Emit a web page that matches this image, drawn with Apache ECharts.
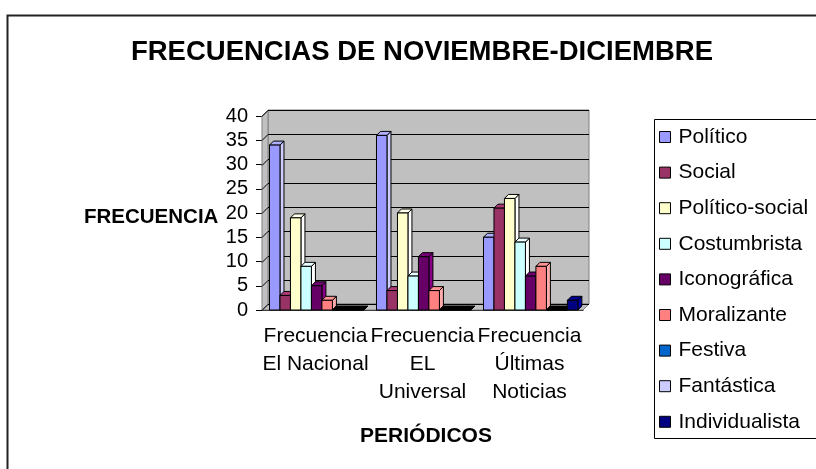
<!DOCTYPE html>
<html>
<head>
<meta charset="utf-8">
<script src="https://cdn.jsdelivr.net/npm/echarts@6/dist/echarts.min.js"></script>
<style>
  html, body { margin: 0; padding: 0; background: #fff; }
  #chart { width: 816px; height: 469px; }
</style>
</head>
<body>
<div id="chart"></div>
<script>
// categories (periodicos) and one array per theme
const categories = ['Frecuencia\nEl Nacional', 'Frecuencia\nEL\nUniversal', 'Frecuencia\nÚltimas\nNoticias']
const seriesNames = ['Político', 'Social', 'Político-social', 'Costumbrista', 'Iconográfica', 'Moralizante', 'Festiva', 'Fantástica', 'Individualista']
const politico = [34, 36, 15]
const social = [3, 4, 21]
const politicoSocial = [19, 20, 23]
const costumbrista = [9, 7, 14]
const iconografica = [5, 11, 7]
const moralizante = [2, 4, 9]
const festiva = [0, 0, 0]
const fantastica = [0, 0, 0]
const individualista = [0, 0, 2]
const yMin = 0
const yMax = 40
const yStep = 5

const seriesValues = [politico, social, politicoSocial, costumbrista, iconografica, moralizante, festiva, fantastica, individualista]
const colors = ['#9999FF', '#993366', '#FFFFCC', '#CCFFFF', '#660066', '#FF8080', '#0066CC', '#CCCCFF', '#000080']

const FONT = '"Liberation Sans", Arial, sans-serif'
const DEPTH = 4      // bar depth in px
const WALL = 6      // wall depth in px

const chart = echarts.init(document.getElementById('chart'))

const renderFrame = (params, api) => {
  const cs = params.coordSys
  const x = cs.x, y = cs.y, w = cs.width, h = cs.height
  const children = [
    // back wall
    { type: 'rect', shape: { x: x + WALL, y: y - WALL, width: w, height: h },
      style: { fill: '#c0c0c0', stroke: '#808080', lineWidth: 1 } },
    // left wall
    { type: 'polygon', shape: { points: [[x, y], [x + WALL, y - WALL], [x + WALL, y + h - WALL], [x, y + h]] },
      style: { fill: '#c0c0c0', stroke: '#808080', lineWidth: 1 } },
    // floor
    { type: 'polygon', shape: { points: [[x, y + h], [x + WALL, y + h - WALL], [x + w + WALL, y + h - WALL], [x + w, y + h]] },
      style: { fill: '#c0c0c0', stroke: '#808080', lineWidth: 1 } }
  ]
  for (let v = yMin; v <= yMax; v += yStep) {
    const py = Math.round(api.coord([0, v])[1]) + 0.5
    children.push({
      type: 'polyline',
      shape: { points: [[x, py], [x + WALL, py - WALL], [x + w + WALL, py - WALL]] },
      style: { stroke: '#000', lineWidth: 1, fill: null }
    })
  }
  return { type: 'group', children }
}

const makeBar = (k) => (params, api) => {
  const cat = api.value(0)
  const v = api.value(1)
  const band = api.size([1, 0])[0]
  const base = api.coord([cat, 0])
  const top = api.coord([cat, v])
  const bw = band * 0.098
  const x0 = base[0] - band / 2 + band * 0.07 + k * bw
  const x1 = x0 + bw
  const c = colors[k]
  // empty bars show up as a flat dark slab in the original
  const side = v === 0 ? '#000' : echarts.color.lift(c, -0.35)
  const topc = v === 0 ? '#000' : echarts.color.lift(c, -0.15)
  const st = { stroke: '#000', lineWidth: 1 }
  return {
    type: 'group',
    children: [
      { type: 'polygon', shape: { points: [[x1, top[1]], [x1 + DEPTH, top[1] - DEPTH], [x1 + DEPTH, base[1] - DEPTH], [x1, base[1]]] },
        style: Object.assign({ fill: side }, st) },
      { type: 'polygon', shape: { points: [[x0, top[1]], [x0 + DEPTH, top[1] - DEPTH], [x1 + DEPTH, top[1] - DEPTH], [x1, top[1]]] },
        style: Object.assign({ fill: topc }, st) },
      { type: 'rect', shape: { x: x0, y: top[1], width: bw, height: base[1] - top[1] },
        style: Object.assign({ fill: c }, st) }
    ]
  }
}

const series = [{
  type: 'custom',
  name: 'frame',
  silent: true,
  z: 1,
  clip: false,
  renderItem: renderFrame,
  data: [[0, 0]]
}]
seriesNames.forEach((name, k) => {
  series.push({
    type: 'custom',
    name,
    z: 2,
    clip: false,
    itemStyle: { color: colors[k], borderColor: '#000', borderWidth: 1 },
    renderItem: makeBar(k),
    encode: { x: 0, y: 1 },
    data: seriesValues[k].map((v, i) => [i, v])
  })
})

chart.setOption({
  animation: false,
  textStyle: { fontFamily: FONT, color: '#000' },
  title: [
    { text: 'FRECUENCIAS DE NOVIEMBRE-DICIEMBRE', left: 417, top: 33, textAlign: 'center',
      textStyle: { fontFamily: FONT, fontSize: 27.5, fontWeight: 'bold', color: '#000' } },
    { text: 'FRECUENCIA', left: 79, top: 202,
      textStyle: { fontFamily: FONT, fontSize: 20.5, fontWeight: 'bold', color: '#000' } },
    { text: 'PERIÓDICOS', left: 421, top: 421, textAlign: 'center',
      textStyle: { fontFamily: FONT, fontSize: 21, fontWeight: 'bold', color: '#000' } }
  ],
  graphic: [
    // outer chart frame, runs off the right and bottom edges
    { type: 'rect', left: 5, top: 13, silent: true,
      shape: { width: 900, height: 500 },
      style: { fill: null, stroke: '#222', lineWidth: 2 } },
    // legend box, also cut off on the right
    { type: 'rect', left: 652, top: 117, silent: true,
      shape: { width: 300, height: 319 },
      style: { fill: null, stroke: '#000', lineWidth: 1 } }
  ],
  legend: {
    data: seriesNames,
    orient: 'vertical',
    left: 652,
    top: 117,
    padding: [9, 0, 9, 7],
    icon: 'rect',
    itemWidth: 11,
    itemHeight: 11,
    itemGap: 13.6,
    itemStyle: { borderColor: '#000', borderWidth: 1 },
    textStyle: { fontFamily: FONT, fontSize: 21, lineHeight: 22, color: '#000', padding: [0, 0, 0, 3] },
    selectedMode: false
  },
  grid: { left: 262, right: 233, top: 116, bottom: 159 },
  xAxis: {
    type: 'category',
    data: categories,
    axisLine: { lineStyle: { color: '#000', width: 1 } },
    axisTick: { length: 5, lineStyle: { color: '#000' } },
    axisLabel: { fontFamily: FONT, fontSize: 21, lineHeight: 28, color: '#000', margin: 12, interval: 0 }
  },
  yAxis: {
    type: 'value',
    min: yMin,
    max: yMax,
    interval: yStep,
    axisLine: { show: true, lineStyle: { color: '#000', width: 1 } },
    axisTick: { show: true, length: 6, lineStyle: { color: '#000' } },
    splitLine: { show: false },
    axisLabel: { fontFamily: FONT, fontSize: 20, color: '#000', margin: 14 }
  },
  series
})
</script>
</body>
</html>
